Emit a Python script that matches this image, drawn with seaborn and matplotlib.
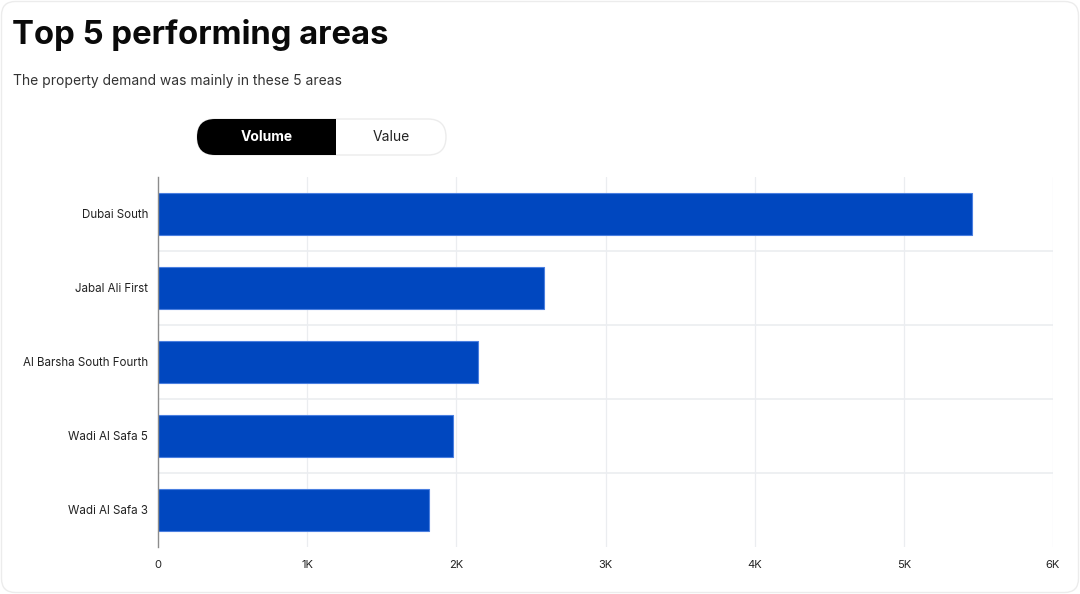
import matplotlib
matplotlib.use("Agg")
import matplotlib.pyplot as plt
from matplotlib.patches import FancyBboxPatch, Rectangle
import seaborn as sns
import pandas as pd

areas = ["Dubai South", "Jabal Ali First", "Al Barsha South Fourth", "Wadi Al Safa 5", "Wadi Al Safa 3"]
volumes = [5456, 2587, 2146, 1976, 1818]
x_ticks = [0, 1000, 2000, 3000, 4000, 5000, 6000]
x_tick_labels = ["0", "1K", "2K", "3K", "4K", "5K", "6K"]

title = "Top 5 performing areas"
subtitle = "The property demand was mainly in these 5 areas"
toggle_labels = ["Volume", "Value"]

df = pd.DataFrame({"area": areas, "volume": volumes})

sns.set_theme(style="white")
plt.rcParams["font.family"] = ["Inter", "DejaVu Sans"]

W, H = 1080, 594
fig = plt.figure(figsize=(W / 100, H / 100), dpi=100)
fig.patch.set_facecolor("white")

# overlay axes in pixel coordinates for decorations
deco = fig.add_axes([0, 0, 1, 1], zorder=0)
deco.set_xlim(0, W)
deco.set_ylim(H, 0)
deco.axis("off")
deco.add_patch(FancyBboxPatch((1.5, 1.5), W - 3, H - 3,
                              boxstyle="round,pad=0,rounding_size=14",
                              facecolor="white", edgecolor="#ececec", linewidth=1.0))

# toggle pill
pill_x0, pill_x1, pill_y0, pill_y1 = 197, 446, 119, 155
mid = 336
r = (pill_y1 - pill_y0) / 2
deco.add_patch(FancyBboxPatch((pill_x0, pill_y0), pill_x1 - pill_x0, pill_y1 - pill_y0,
                              boxstyle=f"round,pad=0,rounding_size={r}",
                              facecolor="white", edgecolor="#ececec", linewidth=1.0))
deco.add_patch(FancyBboxPatch((pill_x0, pill_y0), mid - pill_x0, pill_y1 - pill_y0,
                              boxstyle=f"round,pad=0,rounding_size={r}",
                              facecolor="black", edgecolor="none"))
deco.add_patch(Rectangle((mid - r - 2, pill_y0), r + 2, pill_y1 - pill_y0,
                         facecolor="black", edgecolor="none"))
deco.text((pill_x0 + mid) / 2, 137, toggle_labels[0], fontsize=10,
          fontweight="bold", color="white", ha="center", va="center")
deco.text((mid + pill_x1) / 2, 137, toggle_labels[1], fontsize=10,
          color="#222222", ha="center", va="center")

# title & subtitle
deco.text(12, 35, title, fontsize=23.7, fontweight="bold",
          color="#0a0a0a", va="center", ha="left")
deco.text(13, 81, subtitle, fontsize=10, color="#333333",
          va="center", ha="left")

ax = fig.add_axes([158 / W, 1 - 547 / H, (1053 - 158) / W, (547 - 177) / H], zorder=2)
ax.set_facecolor("none")

sns.barplot(data=df, y="area", x="volume", orient="h", ax=ax,
            color="#0047bf", width=0.57, edgecolor="#4a7fe0", linewidth=0.8,
            saturation=1, zorder=3)

ax.set_xlim(0, 6000)
ax.set_ylim(len(areas) - 0.5, -0.5)
ax.set_xticks(x_ticks)
ax.set_xticklabels(x_tick_labels)
ax.set_xlabel("")
ax.set_ylabel("")

for t in x_ticks[1:]:
    ax.axvline(t, color="#ebedf0", linewidth=0.9, zorder=1)
for i in range(len(areas) - 1):
    ax.axhline(i + 0.5, color="#ebedf0", linewidth=1.2, zorder=1)

for s in ["top", "right", "bottom"]:
    ax.spines[s].set_visible(False)
ax.spines["left"].set_color("#8c8c8c")
ax.spines["left"].set_linewidth(1.0)
ax.spines["left"].set_zorder(4)

ax.tick_params(axis="both", length=0, colors="#222222")
ax.tick_params(axis="x", labelsize=8, pad=9)
ax.tick_params(axis="y", labelsize=8.3, pad=7)

fig.savefig("out.png", dpi=100, facecolor="white")
